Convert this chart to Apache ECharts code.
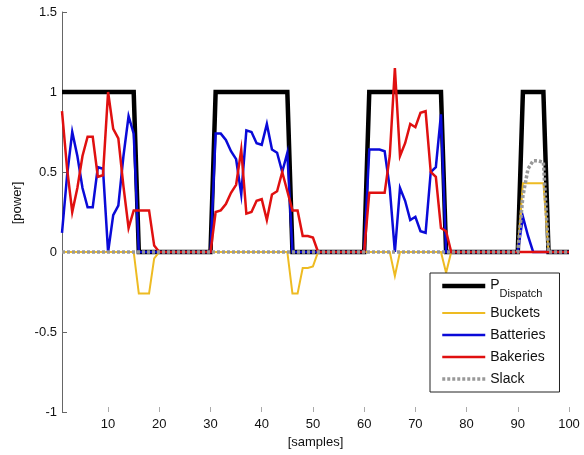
<!DOCTYPE html>
<html>
<head>
<meta charset="utf-8">
<script src="https://cdn.jsdelivr.net/npm/echarts@6/dist/echarts.min.js"></script>
<style>
    html, body { margin: 0; padding: 0; background: #fff; }
    #myChart { width: 584px; height: 455px; }
</style>
</head>
<body>
<div id="myChart"></div>
<script>
    // sample index 1..100
    const samples = Array.from({length: 100}, (_, i) => String(i + 1))

    const pDispatch = [
        1, 1, 1, 1, 1, 1, 1, 1, 1, 1,
        1, 1, 1, 1, 1, 0, 0, 0, 0, 0,
        0, 0, 0, 0, 0, 0, 0, 0, 0, 0,
        1, 1, 1, 1, 1, 1, 1, 1, 1, 1,
        1, 1, 1, 1, 1, 0, 0, 0, 0, 0,
        0, 0, 0, 0, 0, 0, 0, 0, 0, 0,
        1, 1, 1, 1, 1, 1, 1, 1, 1, 1,
        1, 1, 1, 1, 1, 0, 0, 0, 0, 0,
        0, 0, 0, 0, 0, 0, 0, 0, 0, 0,
        1, 1, 1, 1, 1, 0, 0, 0, 0, 0
    ]
    const buckets = [
        0, 0, 0, 0, 0, 0, 0, 0, 0, 0,
        0, 0, 0, 0, 0, -0.26, -0.26, -0.26, -0.04, 0,
        0, 0, 0, 0, 0, 0, 0, 0, 0, 0,
        0, 0, 0, 0, 0, 0, 0, 0, 0, 0,
        0, 0, 0, 0, 0, -0.26, -0.26, -0.1, -0.1, -0.09,
        0, 0, 0, 0, 0, 0, 0, 0, 0, 0,
        0, 0, 0, 0, 0, -0.15, 0, 0, 0, 0,
        0, 0, 0, 0, 0, -0.13, 0, 0, 0, 0,
        0, 0, 0, 0, 0, 0, 0, 0, 0, 0,
        0.43, 0.43, 0.43, 0.43, 0.43, 0, 0, 0, 0, 0
    ]
    const batteries = [
        0.12, 0.48, 0.75, 0.6, 0.4, 0.28, 0.28, 0.53, 0.52, 0,
        0.23, 0.29, 0.6, 0.85, 0.74, 0, 0, 0, 0, 0,
        0, 0, 0, 0, 0, 0, 0, 0, 0, 0,
        0.74, 0.74, 0.7, 0.63, 0.58, 0.36, 0.76, 0.75, 0.68, 0.67,
        0.8, 0.64, 0.62, 0.5, 0.62, 0, 0, 0, 0, 0,
        0, 0, 0, 0, 0, 0, 0, 0, 0, 0,
        0.64, 0.64, 0.64, 0.63, 0.4, 0, 0.4, 0.32, 0.2, 0.22,
        0.13, 0.12, 0.5, 0.53, 0.86, 0, 0, 0, 0, 0,
        0, 0, 0, 0, 0, 0, 0, 0, 0, 0,
        0.22, 0.1, 0, 0, 0, 0, 0, 0, 0, 0
    ]
    const bakeries = [
        0.88, 0.52, 0.25, 0.4, 0.6, 0.72, 0.72, 0.47, 0.48, 1.0,
        0.77, 0.71, 0.41, 0.15, 0.26, 0.26, 0.26, 0.26, 0.04, 0,
        0, 0, 0, 0, 0, 0, 0, 0, 0, 0,
        0.25, 0.26, 0.3, 0.37, 0.42, 0.64, 0.24, 0.25, 0.32, 0.33,
        0.2, 0.36, 0.38, 0.5, 0.38, 0.26, 0.26, 0.1, 0.1, 0.09,
        0, 0, 0, 0, 0, 0, 0, 0, 0, 0,
        0.37, 0.37, 0.37, 0.37, 0.6, 1.15, 0.6, 0.68, 0.8, 0.78,
        0.87, 0.88, 0.5, 0.47, 0.15, 0.13, 0, 0, 0, 0,
        0, 0, 0, 0, 0, 0, 0, 0, 0, 0,
        0, 0, 0, 0, 0, 0, 0, 0, 0, 0
    ]
    const slack = [
        0, 0, 0, 0, 0, 0, 0, 0, 0, 0,
        0, 0, 0, 0, 0, 0, 0, 0, 0, 0,
        0, 0, 0, 0, 0, 0, 0, 0, 0, 0,
        0, 0, 0, 0, 0, 0, 0, 0, 0, 0,
        0, 0, 0, 0, 0, 0, 0, 0, 0, 0,
        0, 0, 0, 0, 0, 0, 0, 0, 0, 0,
        0, 0, 0, 0, 0, 0, 0, 0, 0, 0,
        0, 0, 0, 0, 0, 0, 0, 0, 0, 0,
        0, 0, 0, 0, 0, 0, 0, 0, 0, 0,
        0.35, 0.52, 0.57, 0.57, 0.56, 0, 0, 0, 0, 0
    ]

    const font = 'Liberation Sans'
    const every10 = (index) => (index + 1) % 10 === 0

    function line(name, data, color, width, type) {
        return {
            name: name,
            type: 'line',
            data: data,
            symbol: 'none',
            showSymbol: false,
            lineStyle: {color: color, width: width, type: type || 'solid', join: 'miter', cap: 'butt'},
            itemStyle: {color: color}
        }
    }

    const option = {
        animation: false,
        backgroundColor: '#fff',
        grid: {left: 62, right: 15, top: 12, bottom: 43, outerBoundsMode: 'none'},
        legend: {
            orient: 'vertical',
            left: 430, top: 273,
            padding: [5, 14, 5, 10],
            itemGap: 6,
            itemWidth: 43,
            itemHeight: 14,
            backgroundColor: '#fff',
            borderColor: '#222',
            borderWidth: 1,
            borderRadius: 0,
            itemStyle: {opacity: 0},
            data: [
                {name: 'PDispatch', lineStyle: {width: 4.5}},
                {name: 'Buckets', lineStyle: {width: 2}},
                {name: 'Batteries', lineStyle: {width: 2.5}},
                {name: 'Bakeries', lineStyle: {width: 2.5}},
                {name: 'Slack', lineStyle: {width: 3.5, type: [3, 2]}}
            ],
            formatter: name => name === 'PDispatch' ? '{p|P}{sub|Dispatch}' : name,
            textStyle: {
                fontFamily: font, fontSize: 14, color: '#111', lineHeight: 16,
                rich: {
                    p: {fontFamily: font, fontSize: 14, lineHeight: 16, verticalAlign: 'top'},
                    sub: {fontFamily: font, fontSize: 11, lineHeight: 12, padding: [10, 0, 0, 0], verticalAlign: 'top'}
                }
            }
        },
        xAxis: {
            type: 'category',
            data: samples,
            boundaryGap: false,
            name: '[samples]',
            nameLocation: 'middle',
            nameGap: 24,
            nameTextStyle: {fontFamily: font, fontSize: 13, color: '#111'},
            axisLine: {show: false, onZero: false},
            axisTick: {show: true, inside: true, length: 5, interval: every10, lineStyle: {color: '#aaa'}},
            axisLabel: {interval: every10, fontFamily: font, fontSize: 13, color: '#111', margin: 6},
            splitLine: {show: false}
        },
        yAxis: {
            type: 'value',
            min: -1,
            max: 1.5,
            interval: 0.5,
            name: '[power]',
            nameLocation: 'middle',
            nameGap: 38,
            nameRotate: 90,
            nameTextStyle: {fontFamily: font, fontSize: 13, color: '#111', padding: [0, 0, 0, 18]},
            axisLine: {show: true, onZero: false, lineStyle: {color: '#666'}},
            axisTick: {show: true, inside: true, length: 5, lineStyle: {color: '#666'}},
            axisLabel: {fontFamily: font, fontSize: 13, color: '#111', margin: 5},
            splitLine: {show: false}
        },
        series: [
            line('PDispatch', pDispatch, '#000', 4.5),
            line('Buckets', buckets, '#eebb22', 2),
            line('Batteries', batteries, '#0a0ad8', 2.5),
            line('Bakeries', bakeries, '#e01010', 2.5),
            line('Slack', slack, '#999', 3.5, [3, 2])
        ]
    }

    const myChart = echarts.init(document.getElementById('myChart'))
    myChart.setOption(option)
</script>
</body>
</html>
